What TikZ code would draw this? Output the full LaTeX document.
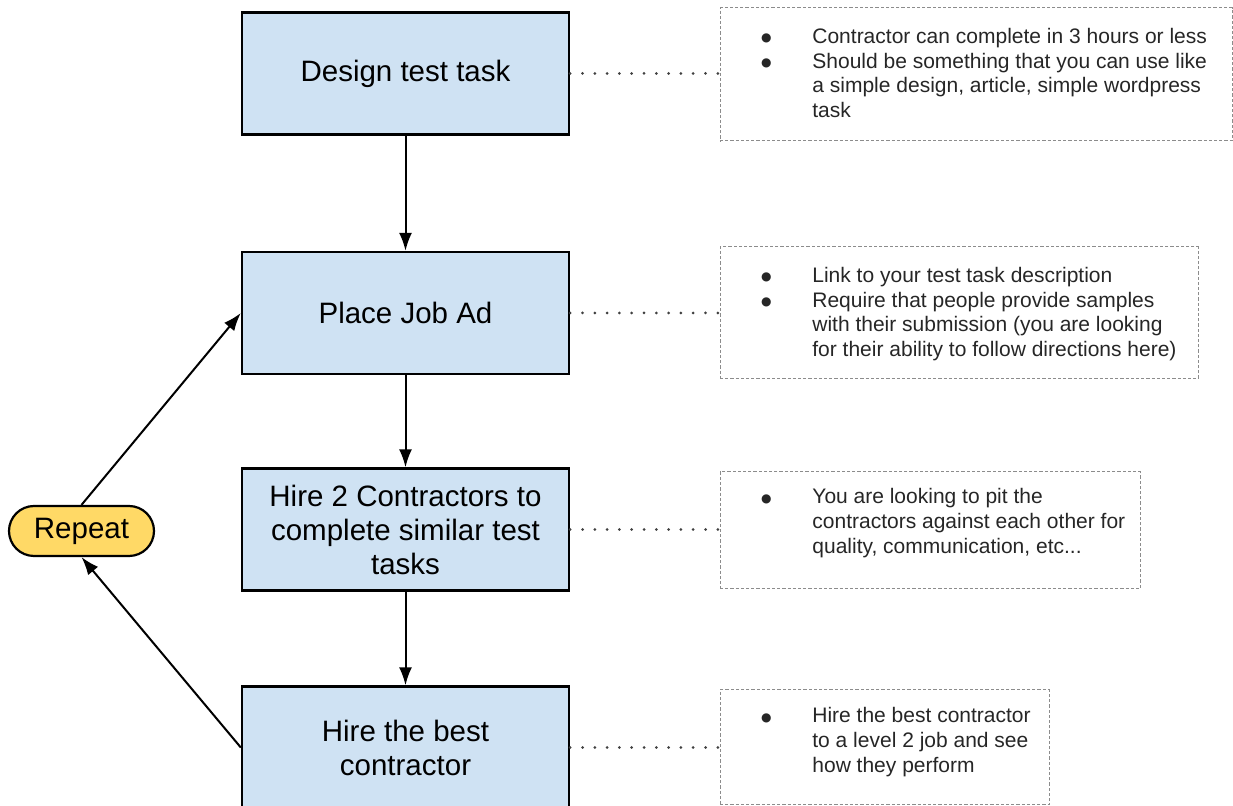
\documentclass[tikz,border=0pt]{standalone}
\usepackage{fontspec}
\setmainfont{Liberation Sans}
\newfontfamily\bulletfont{DejaVu Sans}
\usetikzlibrary{arrows.meta}
\definecolor{taskblue}{HTML}{CFE2F3}
\definecolor{repeatyellow}{HTML}{FFD966}
\definecolor{notegrey}{HTML}{8C8C8C}
\definecolor{linkgrey}{HTML}{404040}
\newcommand{\notebullet}{\makebox[26.5pt][l]{\hspace{0.8pt}\raisebox{0.9pt}{\bulletfont\fontsize{6}{6}\selectfont ●}}}
\newcommand{\noteindent}{\hspace*{26.5pt}}
\tikzset
    { task box/.style =
        { draw, line width=1.2pt, fill=taskblue
        , minimum width=163.5pt, minimum height=61pt
        , align=center, inner sep=2pt
        , font=\fontsize{14.75}{17}\selectfont
        }
    , repeat pill/.style =
        { draw, line width=1.1pt, fill=repeatyellow
        , rounded corners=12.5pt
        , minimum width=72.5pt, minimum height=25pt
        , font=\fontsize{14.75}{17}\selectfont
        }
    , note box/.style =
        { draw=notegrey, line width=0.5pt
        , dash pattern=on 1.6pt off 1pt
        }
    , note text/.style =
        { anchor=west, align=left, inner sep=0pt
        , text=black!85
        , font=\fontsize{10.5}{12.3}\selectfont
        }
    , flow arrow/.style =
        { line width=1pt
        , -{Latex[length=9pt, width=6.5pt]}
        }
    , dotted link/.style =
        { draw=linkgrey, line width=1.5pt, line cap=round
        , dash pattern=on 0pt off 6.15pt
        }
    }
\begin{document}
\begin{tikzpicture}[x=0.5pt, y=-0.5pt]

    \useasboundingbox (0, 0) rectangle (1233, 806);

    % steps
    \node[task box] (design) at (405.5, 73.5) {Design test task};
    \node[task box] (advert) at (405.5, 313) {Place Job Ad};
    \node[task box] (trial) at (405.5, 529.5) {Hire 2 Contractors to\\complete similar test\\tasks};
    \node[task box] (best) at (405.5, 747.5) {Hire the best\\contractor};

    \node[repeat pill] (again) at (81.5, 531) {Repeat};

    % notes
    \node[note box, minimum width=256pt, minimum height=66.5pt] (design note) at (976, 74.5) {};
    \node[note box, minimum width=239pt, minimum height=66pt] (advert note) at (959, 313) {};
    \node[note box, minimum width=210pt, minimum height=58.5pt] (trial note) at (930, 530.5) {};
    \node[note box, minimum width=164.5pt, minimum height=57.5pt] (best note) at (884.5, 747.5) {};

    \node[note text] (design text) at (759, 73)
        {\notebullet Contractor can complete in 3 hours or less\\
         \notebullet Should be something that you can use like\\
         \noteindent a simple design, article, simple wordpress\\
         \noteindent task};
    \node[note text] (advert text) at (759, 314)
        {\notebullet Link to your test task description\\
         \notebullet Require that people provide samples\\
         \noteindent with their submission (you are looking\\
         \noteindent for their ability to follow directions here)};
    \node[note text] (trial text) at (759, 523)
        {\notebullet You are looking to pit the\\
         \noteindent contractors against each other for\\
         \noteindent quality, communication, etc...};
    \node[note text] (best text) at (759, 742)
        {\notebullet Hire the best contractor\\
         \noteindent to a level 2 job and see\\
         \noteindent how they perform};

    % flow
    \draw[flow arrow] (design) -- (advert);
    \draw[flow arrow] (advert) -- (trial);
    \draw[flow arrow] (trial) -- (best);
    \draw[flow arrow] (again.north) -- (advert.west);
    \draw[flow arrow] (best.west) -- (again.south);

    \draw[dotted link] (design.east) -- (design.east -| design note.west);
    \draw[dotted link] (advert.east) -- (advert.east -| advert note.west);
    \draw[dotted link] (trial.east) -- (trial.east -| trial note.west);
    \draw[dotted link] (best.east) -- (best.east -| best note.west);

\end{tikzpicture}
\end{document}
